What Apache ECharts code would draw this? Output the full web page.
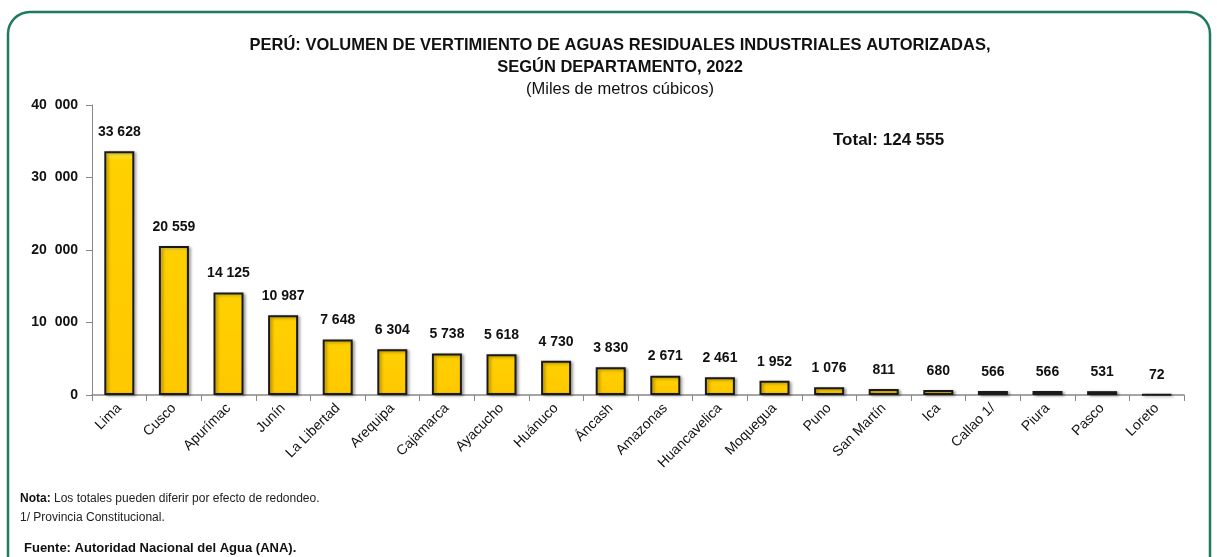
<!DOCTYPE html>
<html><head><meta charset="utf-8">
<script src="https://cdn.jsdelivr.net/npm/echarts@6/dist/echarts.min.js"></script>
<style>html,body{margin:0;padding:0;background:#fff}#c{width:1217px;height:557px}</style>
</head><body><div id="c"></div>
<script>
const categories = ["Lima","Cusco","Apurímac","Junín","La Libertad","Arequipa","Cajamarca","Ayacucho","Huánuco","Áncash","Amazonas","Huancavelica","Moquegua","Puno","San Martín","Ica","Callao 1/","Piura","Pasco","Loreto"];
const values = [33628,20559,14125,10987,7648,6304,5738,5618,4730,3830,2671,2461,1952,1076,811,680,566,566,531,72];
const yTicks = [0,10000,20000,30000,40000];
const F = "'Liberation Sans',Arial,sans-serif";
function fmt(v){ return String(v).replace(/\B(?=(\d{3})+(?!\d))/g,' '); }
const chart = echarts.init(document.getElementById('c'));
chart.setOption({
  animation:false,
  graphic:[
    {type:'rect',shape:{x:8,y:12,width:1202,height:580,r:22},style:{fill:'none',stroke:'#1e7a5e',lineWidth:2.5}},
    {type:'text',x:620,y:37,style:{text:'PERÚ: VOLUMEN DE VERTIMIENTO DE AGUAS RESIDUALES INDUSTRIALES AUTORIZADAS,',font:"bold 16.5px "+F,fill:'#111',align:'center'}},
    {type:'text',x:620,y:59,style:{text:'SEGÚN DEPARTAMENTO, 2022',font:"bold 16.5px "+F,fill:'#111',align:'center'}},
    {type:'text',x:620,y:81,style:{text:'(Miles de metros cúbicos)',font:"16.5px "+F,fill:'#111',align:'center'}},
    {type:'text',x:833,y:132,style:{text:'Total: 124 555',font:"bold 17px "+F,fill:'#111'}},
    {type:'text',x:20,y:493,style:{rich:{b:{font:"bold 12px "+F,fill:'#111'},n:{font:"12px "+F,fill:'#222'}},text:'{b|Nota:} {n|Los totales pueden diferir por efecto de redondeo.}'}},
    {type:'text',x:20,y:512,style:{text:'1/ Provincia Constitucional.',font:"12px "+F,fill:'#222'}},
    {type:'text',x:24,y:542,style:{text:'Fuente: Autoridad Nacional del Agua (ANA).',font:"bold 13px "+F,fill:'#111'}}
  ],
  grid:{left:92,right:33,top:105,bottom:162},
  xAxis:{type:'category',data:categories,
    axisLine:{lineStyle:{color:'#888',width:1.5}},
    axisTick:{show:true,alignWithLabel:false,length:6,lineStyle:{color:'#888'}},
    axisLabel:{rotate:45,interval:0,color:'#111',fontFamily:F,fontSize:14,margin:11}},
  yAxis:{type:'value',min:0,max:40000,interval:10000,
    splitLine:{show:false},
    axisLine:{show:true,lineStyle:{color:'#888'}},
    axisTick:{show:true,length:6,lineStyle:{color:'#888'}},
    axisLabel:{color:'#111',fontFamily:F,fontWeight:'bold',fontSize:14,margin:14,
      formatter:v=>yTicks.includes(v)?(v===0?'0':String(v/1000)+'  000'):''}},
  series:[{type:'bar',data:values,barWidth:30,
    itemStyle:{color:new echarts.graphic.LinearGradient(0,0,0,1,[{offset:0,color:'#FFF04A'},{offset:0.04,color:'#FFD000'},{offset:1,color:'#FFC800'}]),
      borderColor:'#1a1a1a',borderWidth:2,shadowColor:'rgba(0,0,0,0.35)',shadowBlur:3,shadowOffsetX:2,shadowOffsetY:1},
    label:{show:true,position:'top',distance:12,color:'#111',fontFamily:F,fontWeight:'bold',fontSize:14,formatter:p=>fmt(p.value)}}]
});
</script></body></html>
